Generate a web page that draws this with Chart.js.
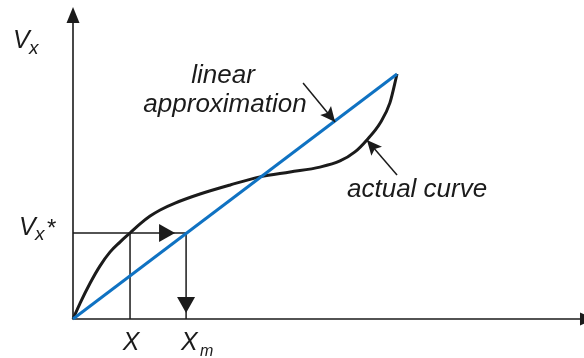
<!DOCTYPE html>
<html>
<head>
<meta charset="utf-8">
<script src="https://cdn.jsdelivr.net/npm/chart.js@4.4.0/dist/chart.umd.min.js"></script>
<style>
  html, body { margin: 0; padding: 0; background: #fff; }
  #wrap { position: relative; width: 584px; height: 358px; }
</style>
</head>
<body>
<div id="wrap"><canvas id="chart"></canvas></div>
<script>
// normalised units: the linear approximation runs from (0,0) to (1,1)
const linearX = [0, 1];
const linearY = [0, 1];

const curveX = [0, 0.022, 0.053, 0.083, 0.114, 0.145, 0.176, 0.207, 0.238, 0.269, 0.315,
                0.392, 0.485, 0.577, 0.670, 0.762, 0.824, 0.870, 0.907, 0.948, 0.978, 1.0];
const curveY = [0, 0.065, 0.147, 0.216, 0.273, 0.314, 0.351, 0.388, 0.420, 0.445, 0.473,
                0.510, 0.547, 0.580, 0.600, 0.620, 0.645, 0.682, 0.731, 0.800, 0.882, 1.0];

const vxStar = 0.351;   // level of Vx*
const xValue = 0.176;   // X  (curve reaches Vx*)
const xmValue = 0.349;  // Xm (line reaches Vx*)

const axisXEnd = 1.614;
const axisYEnd = 1.273;

const tickLabels = ['X', 'X', 'm'];

const BLUE = '#0f72c2';
const INK = '#1b1b1b';

const pts = (xs, ys) => xs.map((x, i) => ({ x: x, y: ys[i] }));

// arrowheads and text drawn on top of the datasets
const schemePlugin = {
    id: 'scheme',
    afterDatasetsDraw(chart) {
        const ctx = chart.ctx;
        const sx = chart.scales.x, sy = chart.scales.y;
        const px = v => sx.getPixelForValue(v);
        const py = v => sy.getPixelForValue(v);

        const head = (x1, y1, x2, y2, len, half, notch) => {
            const a = Math.atan2(y2 - y1, x2 - x1);
            ctx.save();
            ctx.translate(x2, y2);
            ctx.rotate(a);
            ctx.beginPath();
            ctx.moveTo(0, 0);
            ctx.lineTo(-len, -half);
            ctx.lineTo(-len * (notch || 1), 0);
            ctx.lineTo(-len, half);
            ctx.closePath();
            ctx.fillStyle = INK;
            ctx.fill();
            ctx.restore();
        };
        const arrow = (x1, y1, x2, y2) => {
            ctx.save();
            ctx.strokeStyle = INK;
            ctx.lineWidth = 1.5;
            ctx.beginPath();
            ctx.moveTo(x1, y1);
            ctx.lineTo(x2, y2);
            ctx.stroke();
            ctx.restore();
            head(x1, y1, x2, y2, 15, 7, 0.8);
        };

        // axis arrowheads
        head(px(0), py(0), px(0), py(axisYEnd), 16, 6.5);
        head(px(0), py(0), px(axisXEnd), py(0), 16, 6.5);

        // arrows along the construction lines
        head(px(0), py(vxStar), px(0.315), py(vxStar), 16, 9);
        head(px(xmValue), py(vxStar), px(xmValue), py(0.024), 16, 9);

        // pointer arrows
        arrow(px(0.71), py(0.963), px(0.809), py(0.804));
        arrow(px(1.0), py(0.588), px(0.907), py(0.731));

        ctx.save();
        ctx.fillStyle = INK;
        ctx.textBaseline = 'alphabetic';
        const it = s => 'italic ' + s + 'px "Liberation Sans", Arial, sans-serif';

        ctx.font = it(25);
        ctx.textAlign = 'left';
        ctx.fillText('V', 13, 48);
        ctx.font = it(19);
        ctx.fillText('x', 29, 54);

        ctx.font = it(25);
        ctx.fillText('V', 19, 235);
        ctx.font = it(19);
        ctx.fillText('x', 35, 240);
        ctx.font = it(24);
        ctx.fillText('*', 46, 236);

        ctx.font = it(25);
        ctx.textAlign = 'center';
        ctx.fillText(tickLabels[0], px(xValue) + 1, 350);
        ctx.textAlign = 'left';
        ctx.fillText(tickLabels[1], px(xmValue) - 5, 350);
        ctx.font = it(16);
        ctx.fillText(tickLabels[2], px(xmValue) + 14, 356);

        ctx.font = it(26);
        ctx.textAlign = 'center';
        ctx.fillText('linear', 223, 83);
        ctx.fillText('approximation', 225, 112);
        ctx.textAlign = 'left';
        ctx.fillText('actual curve', 347, 197);
        ctx.restore();
    }
};

new Chart(document.getElementById('chart'), {
    type: 'scatter',
    data: {
        datasets: [
            {
                data: pts(linearX, linearY),
                showLine: true,
                borderColor: BLUE,
                borderWidth: 3,
                pointRadius: 0,
                clip: false,
                order: 0
            },
            {
                data: pts(curveX, curveY),
                showLine: true,
                borderColor: INK,
                borderWidth: 3,
                pointRadius: 0,
                cubicInterpolationMode: 'monotone',
                clip: false,
                order: 1
            },
            {
                // Vx* -> line -> Xm
                data: [{ x: 0, y: vxStar }, { x: xmValue, y: vxStar }, { x: xmValue, y: 0 }],
                showLine: true,
                borderColor: INK,
                borderWidth: 1.5,
                pointRadius: 0,
                clip: false,
                order: 2
            },
            {
                data: [{ x: xValue, y: vxStar }, { x: xValue, y: 0 }],
                showLine: true,
                borderColor: INK,
                borderWidth: 1.5,
                pointRadius: 0,
                clip: false,
                order: 2
            },
            {
                // axes
                data: [{ x: 0, y: axisYEnd - 0.05 }, { x: 0, y: 0 }, { x: axisXEnd - 0.04, y: 0 }],
                showLine: true,
                borderColor: INK,
                borderWidth: 1.6,
                pointRadius: 0,
                clip: false,
                order: 3
            }
        ]
    },
    options: {
        responsive: true,
        maintainAspectRatio: false,
        animation: false,
        layout: { padding: { left: 73, right: 0, top: 12, bottom: 39 } },
        scales: {
            x: { type: 'linear', min: 0, max: 1.577, display: false },
            y: { type: 'linear', min: 0, max: 1.253, display: false }
        },
        plugins: {
            legend: { display: false },
            tooltip: { enabled: false }
        }
    },
    plugins: [schemePlugin]
});
</script>
</body>
</html>
